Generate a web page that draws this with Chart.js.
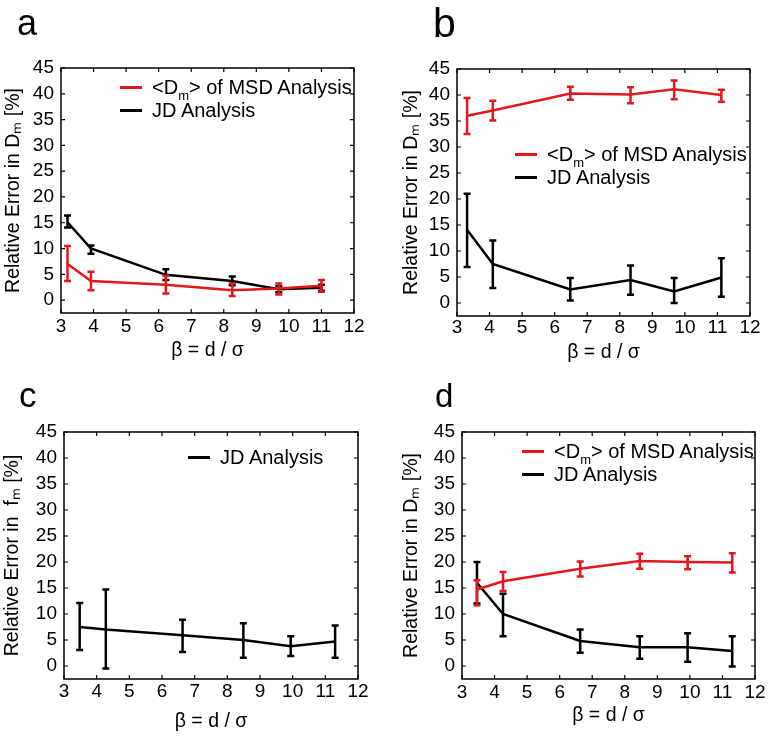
<!DOCTYPE html>
<html><head><meta charset="utf-8">
<script src="https://cdn.jsdelivr.net/npm/chart.js@4.4.0/dist/chart.umd.min.js"></script>
<style>
html,body{margin:0;padding:0;background:#fff;}
#fig{position:relative;width:771px;height:739px;overflow:hidden;font-family:'Liberation Sans',Arial,sans-serif;color:#000;}
canvas{position:absolute;}
.letter{position:absolute;line-height:1;color:#000;}
.leg{position:absolute;display:flex;align-items:center;height:22px;font-size:20px;white-space:nowrap;color:#000;}
.leg .sw{width:22px;height:3px;margin-right:10px;flex:none;}
.leg sub{font-size:13px;vertical-align:-6px;line-height:0;}
</style></head>
<body>
<div id="fig">
  <canvas id="ca" width="385" height="370" style="left:0;top:0"></canvas>
  <canvas id="cb" width="386" height="370" style="left:385px;top:0"></canvas>
  <canvas id="cc" width="385" height="369" style="left:0;top:370px"></canvas>
  <canvas id="cd" width="386" height="369" style="left:385px;top:370px"></canvas>

  <div class="letter" style="left:17px;top:5px;font-size:36px">a</div>
  <div class="letter" style="left:433px;top:3px;font-size:41px">b</div>
  <div class="letter" style="left:19px;top:377px;font-size:35px">c</div>
  <div class="letter" style="left:435px;top:379px;font-size:33px">d</div>

  <div class="leg" style="left:120px;top:76px"><span class="sw" style="background:rgb(228,24,28)"></span><span>&lt;D<sub>m</sub>&gt; of MSD Analysis</span></div>
  <div class="leg" style="left:120px;top:99px"><span class="sw" style="background:#000"></span><span>JD Analysis</span></div>

  <div class="leg" style="left:515px;top:143px"><span class="sw" style="background:rgb(228,24,28)"></span><span>&lt;D<sub>m</sub>&gt; of MSD Analysis</span></div>
  <div class="leg" style="left:515px;top:166px"><span class="sw" style="background:#000"></span><span>JD Analysis</span></div>

  <div class="leg" style="left:188px;top:446px"><span class="sw" style="background:#000"></span><span>JD Analysis</span></div>

  <div class="leg" style="left:522px;top:440px"><span class="sw" style="background:rgb(228,24,28)"></span><span>&lt;D<sub>m</sub>&gt; of MSD Analysis</span></div>
  <div class="leg" style="left:522px;top:463px"><span class="sw" style="background:#000"></span><span>JD Analysis</span></div>
</div>
<script>
// ---- tick labels ----
const xTicks = [3,4,5,6,7,8,9,10,11,12];
const yTicks = [0,5,10,15,20,25,30,35,40,45];
const xLabel = 'β = d / σ';

// ---- panel a ----
const aX       = [3.2, 3.92, 6.22, 8.26, 9.69, 11.0];
const aMsd     = [7.0, 3.7, 3.0, 1.9, 2.25, 2.8];
const aMsdLow  = [3.7, 1.9, 1.3, 0.8, 1.1, 1.6];
const aMsdHigh = [10.5, 5.5, 4.7, 3.2, 3.2, 3.9];
const aJd      = [15.1, 10.0, 4.9, 3.7, 2.1, 2.4];
const aJdLow   = [14.1, 9.0, 3.9, 2.9, 1.5, 1.8];
const aJdHigh  = [16.4, 10.6, 6.0, 4.6, 2.7, 3.0];

// ---- panel b ----
const bX       = [3.31, 4.1, 6.48, 8.33, 9.67, 11.12];
const bMsd     = [36.0, 37.0, 40.3, 40.1, 41.1, 40.0];
const bMsdLow  = [32.5, 35.1, 39.1, 38.4, 39.2, 38.7];
const bMsdHigh = [39.4, 38.9, 41.6, 41.5, 42.8, 41.0];
const bJd      = [14.1, 7.5, 2.6, 4.4, 2.2, 4.9];
const bJdLow   = [6.9, 2.9, 0.5, 1.6, 0.0, 1.2];
const bJdHigh  = [21.0, 12.0, 4.8, 7.2, 4.8, 8.6];

// ---- panel c ----
const cX       = [3.48, 4.28, 6.63, 8.49, 9.94, 11.30];
const cJd      = [7.5, 7.0, 5.9, 5.0, 3.8, 4.7];
const cJdLow   = [3.1, -0.5, 2.7, 1.6, 1.9, 1.6];
const cJdHigh  = [12.1, 14.7, 8.9, 8.2, 5.7, 7.8];

// ---- panel d ----
const dX       = [3.46, 4.26, 6.63, 8.46, 9.93, 11.30];
const dMsd     = [14.7, 16.3, 18.7, 20.2, 20.0, 19.9];
const dMsdLow  = [11.7, 14.4, 17.2, 18.7, 18.6, 18.0];
const dMsdHigh = [16.5, 18.1, 20.1, 21.6, 21.1, 21.7];
const dJd      = [16.0, 10.0, 4.8, 3.6, 3.6, 2.9];
const dJdLow   = [12.0, 5.7, 2.55, 1.4, 0.8, -0.1];
const dJdHigh  = [20.0, 13.9, 7.0, 5.7, 6.3, 5.7];

const RED = 'rgb(228,24,28)';
const BLACK = '#000000';
const TICK_FONT = 19;
const TITLE_FONT = 19.5;

Chart.defaults.font.family = "'Liberation Sans', Arial, sans-serif";
Chart.defaults.color = '#000';

const errorBars = {
  id: 'errorBars',
  afterDatasetDraw(chart, args) {
    const ds = chart.data.datasets[args.index];
    if (!ds.errLow) return;
    const xs = chart.scales.x, ys = chart.scales.y, ctx = chart.ctx;
    ctx.save();
    ctx.strokeStyle = ds.borderColor;
    ctx.lineWidth = 2.5;
    ctx.lineCap = 'butt';
    ds.data.forEach((p, i) => {
      const x = xs.getPixelForValue(p.x);
      const y1 = ys.getPixelForValue(ds.errLow[i]);
      const y2 = ys.getPixelForValue(ds.errHigh[i]);
      ctx.beginPath();
      ctx.moveTo(x, y1); ctx.lineTo(x, y2);
      ctx.moveTo(x - 3.5, y1); ctx.lineTo(x + 3.5, y1);
      ctx.moveTo(x - 3.5, y2); ctx.lineTo(x + 3.5, y2);
      ctx.stroke();
    });
    ctx.restore();
  }
};

const boxTicks = {
  id: 'boxTicks',
  afterDraw(chart) {
    const {ctx, chartArea: {left, right, top, bottom}, scales: {x, y}} = chart;
    ctx.save();
    ctx.strokeStyle = '#000';
    ctx.lineWidth = 1.5;
    ctx.strokeRect(left, top, right - left, bottom - top);
    ctx.lineWidth = 1.2;
    const L = 4;
    ctx.beginPath();
    x.ticks.forEach(t => {
      const px = x.getPixelForValue(t.value);
      ctx.moveTo(px, bottom); ctx.lineTo(px, bottom - L);
      ctx.moveTo(px, top); ctx.lineTo(px, top + L);
    });
    y.ticks.forEach(t => {
      const py = y.getPixelForValue(t.value);
      ctx.moveTo(left, py); ctx.lineTo(left + L, py);
      ctx.moveTo(right, py); ctx.lineTo(right - L, py);
    });
    ctx.stroke();
    ctx.restore();
  }
};

function series(label, xs, ys, lo, hi, color) {
  return {
    label,
    data: xs.map((v, i) => ({x: v, y: ys[i]})),
    errLow: lo, errHigh: hi,
    borderColor: color, backgroundColor: color,
    borderWidth: 2.5, pointRadius: 0, tension: 0, fill: false
  };
}

function makePanel(id, W, H, area, xPad, yTitleX, xTitleY, yLabel, datasets) {
  const lh = TITLE_FONT * 1.2;
  new Chart(document.getElementById(id), {
    type: 'line',
    data: {datasets},
    options: {
      responsive: false, animation: false, devicePixelRatio: 1,
      layout: {padding: {left: 0, top: area[1], right: W - area[2], bottom: 0}},
      plugins: {legend: {display: false}, tooltip: {enabled: false}},
      scales: {
        x: {
          type: 'linear', min: 3, max: 12,
          afterBuildTicks: s => { s.ticks = xTicks.map(v => ({value: v})); },
          afterFit: s => { s.height = H - area[3]; },
          grid: {display: false, drawTicks: false, tickLength: 0}, border: {display: false},
          ticks: {font: {size: TICK_FONT}, color: '#000', padding: xPad, maxRotation: 0, autoSkip: false},
          title: {display: true, text: xLabel, font: {size: TITLE_FONT}, color: '#000',
                  padding: {top: 0, bottom: (H - xTitleY) - lh / 2}}
        },
        y: {
          type: 'linear', min: -2.5, max: 45,
          afterBuildTicks: s => { s.ticks = yTicks.map(v => ({value: v})); },
          afterFit: s => { s.width = area[0]; },
          grid: {display: false, drawTicks: false, tickLength: 0}, border: {display: false},
          ticks: {font: {size: TICK_FONT}, color: '#000', padding: 7, autoSkip: false},
          title: {display: true, text: yLabel, font: {size: TITLE_FONT}, color: '#000',
                  padding: {top: yTitleX - lh / 2, bottom: 0}}
        }
      }
    },
    plugins: [errorBars, boxTicks]
  });
}

makePanel('ca', 385, 370, [61, 68, 354, 313], 2, 14, 351, 'Relative Error in Dₘ [%]', [
  series('<Dm> of MSD Analysis', aX, aMsd, aMsdLow, aMsdHigh, RED),
  series('JD Analysis', aX, aJd, aJdLow, aJdHigh, BLACK)
]);
makePanel('cb', 386, 370, [72, 69, 365, 316], 0, 27, 353, 'Relative Error in Dₘ [%]', [
  series('<Dm> of MSD Analysis', bX, bMsd, bMsdLow, bMsdHigh, RED),
  series('JD Analysis', bX, bJd, bJdLow, bJdHigh, BLACK)
]);
makePanel('cc', 385, 369, [64, 62, 358, 309], 1, 13, 352, 'Relative Error in  fₘ [%]', [
  series('JD Analysis', cX, cJd, cJdLow, cJdHigh, BLACK)
]);
makePanel('cd', 386, 369, [77, 62, 370, 309], 2, 27, 346, 'Relative Error in Dₘ [%]', [
  series('<Dm> of MSD Analysis', dX, dMsd, dMsdLow, dMsdHigh, RED),
  series('JD Analysis', dX, dJd, dJdLow, dJdHigh, BLACK)
]);
</script>
</body></html>
